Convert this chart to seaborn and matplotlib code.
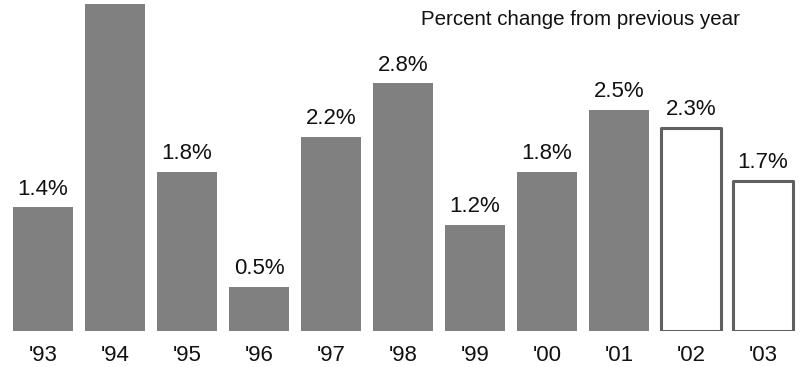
import matplotlib
matplotlib.use("Agg")
import matplotlib.pyplot as plt
import seaborn as sns
import pandas as pd

years = ["'93", "'94", "'95", "'96", "'97", "'98", "'99", "'00", "'01", "'02", "'03"]
changes = [1.4, 3.7, 1.8, 0.5, 2.2, 2.8, 1.2, 1.8, 2.5, 2.3, 1.7]
labels = ["1.4%", "", "1.8%", "0.5%", "2.2%", "2.8%", "1.2%", "1.8%", "2.5%", "2.3%", "1.7%"]
forecast = [False, False, False, False, False, False, False, False, False, True, True]

sns.set_theme(style="white")
plt.rcParams["font.family"] = ["Liberation Sans", "DejaVu Sans"]

df = pd.DataFrame({"year": years, "change": changes})

W, H = 806, 367
fig = plt.figure(figsize=(W / 100, H / 100), dpi=100)
base_px = 331
ax = fig.add_axes([0, (H - base_px) / H, 1, base_px / H])

sns.barplot(data=df, x="year", y="change", color="#808080", saturation=1,
            width=0.833, ax=ax)

for patch, is_fc in zip(ax.patches, forecast):
    patch.set_linewidth(0)
    if is_fc:
        patch.set_facecolor("white")
        patch.set_edgecolor("#606060")
        patch.set_linewidth(2.2)
        patch.set_joinstyle("round")

px_per_unit = 88.4
ax.set_ylim(0, base_px / px_per_unit)
ax.set_xlim(-43 / 72, (W - 43) / 72)

for i, (v, lab) in enumerate(zip(changes, labels)):
    if lab:
        ax.annotate(lab, (i, v), xytext=(0, 5.5), textcoords="offset points",
                    ha="center", va="bottom", fontsize=16, color="#111111")

ax.set_xlabel("")
ax.set_ylabel("")
ax.set_yticks([])
ax.tick_params(axis="x", length=0, pad=10, labelsize=16, labelcolor="#111111")
for s in ax.spines.values():
    s.set_visible(False)
ax.patch.set_alpha(0)

fig.text(421 / W, 1 - 25 / H, "Percent change from previous year",
         ha="left", va="baseline", fontsize=14.8, color="#111111")

fig.savefig("out.png", dpi=100)
